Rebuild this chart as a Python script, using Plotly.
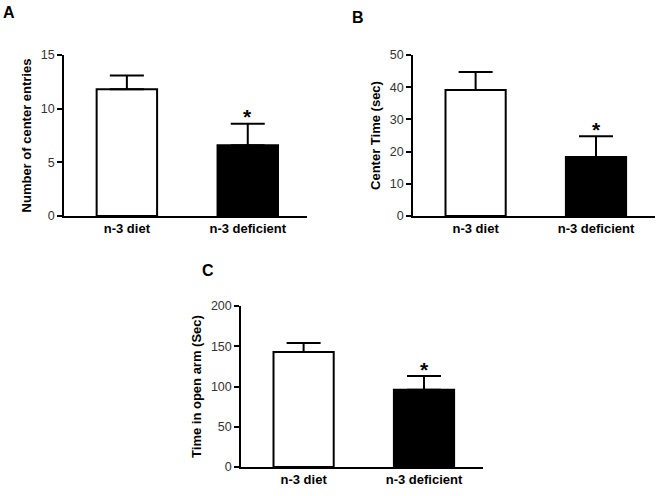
import plotly.graph_objects as go

categories = ["n-3 diet", "n-3 deficient"]

entries_mean = [11.8, 6.6]
entries_err = [1.3, 2.0]

center_time_mean = [39.1, 18.3]
center_time_err = [5.6, 6.5]

open_arm_mean = [143, 96]
open_arm_err = [11, 17]

bar_colors = ["white", "black"]

W, H = 662, 496
FONT = "Liberation Sans, Arial"


def fx(px):
    return px / W


def fy(py):
    return 1 - py / H


fig = go.Figure()

panels = [
    # (suffix, means, errors, y title, y max, dtick, x px range, y px range)
    ("", entries_mean, entries_err, "Number of center entries", 15, 5, (64, 307), (55, 216)),
    ("2", center_time_mean, center_time_err, "Center Time (sec)", 50, 10, (413, 655), (55, 216)),
    ("3", open_arm_mean, open_arm_err, "Time in open arm (Sec)", 200, 50, (241, 483), (306, 467)),
]

for suffix, means, errs, ytitle, ymax, dtick, (x0, x1), (y0, y1) in panels:
    xa = "x" + suffix
    ya = "y" + suffix
    fig.add_trace(go.Bar(
        x=categories, y=means,
        xaxis=xa, yaxis=ya,
        width=0.5,
        marker=dict(color=bar_colors, line=dict(color="black", width=2)),
        error_y=dict(type="data", symmetric=False, array=errs, arrayminus=[0, 0],
                     color="black", thickness=2, width=17),
        showlegend=False,
        hoverinfo="skip",
    ))
    # significance star above the deficient bar
    fig.add_annotation(
        x=categories[1], y=means[1] + errs[1], xref=xa, yref=ya,
        text="<b>*</b>", showarrow=False, yanchor="middle", yshift=7,
        font=dict(family=FONT, size=21, color="black"),
    )
    fig.layout["xaxis" + suffix] = dict(
        domain=[fx(x0), fx(x1)], anchor=ya, type="category", automargin=False,
        range=[-0.52, 1.49], showline=True, linecolor="black", linewidth=1.5,
        ticks="", showgrid=False, zeroline=False,
        tickfont=dict(family=FONT, size=13, color="black", weight="bold"),
    )
    fig.layout["yaxis" + suffix] = dict(
        domain=[fy(y1), fy(y0)], anchor=xa, automargin=False,
        range=[0, ymax], dtick=dtick, showline=True, linecolor="black", linewidth=1.5,
        ticks="outside", ticklen=5, tickwidth=1.5, tickcolor="black",
        showgrid=False, zeroline=False,
        tickfont=dict(family=FONT, size=12.5, color="#333"),
        title=dict(text=ytitle, standoff=6,
                   font=dict(family=FONT, size=13, color="black", weight="bold")),
    )

for letter, px, py in [("A", 9, 12.5), ("B", 358, 17.5), ("C", 208, 270)]:
    fig.add_annotation(
        x=fx(px), y=fy(py), xref="paper", yref="paper",
        xanchor="center", yanchor="middle",
        text="<b>" + letter + "</b>", showarrow=False,
        font=dict(family=FONT, size=16, color="black"),
    )

fig.update_layout(
    template="none",
    width=W, height=H,
    margin=dict(l=0, r=0, t=0, b=0, pad=0),
    paper_bgcolor="white", plot_bgcolor="white",
)

# drop the default body margin so the figure fills the window from its corner
fig.write_html("out.html", config={"displayModeBar": False},
               post_script="document.body.style.margin = '0px';")
